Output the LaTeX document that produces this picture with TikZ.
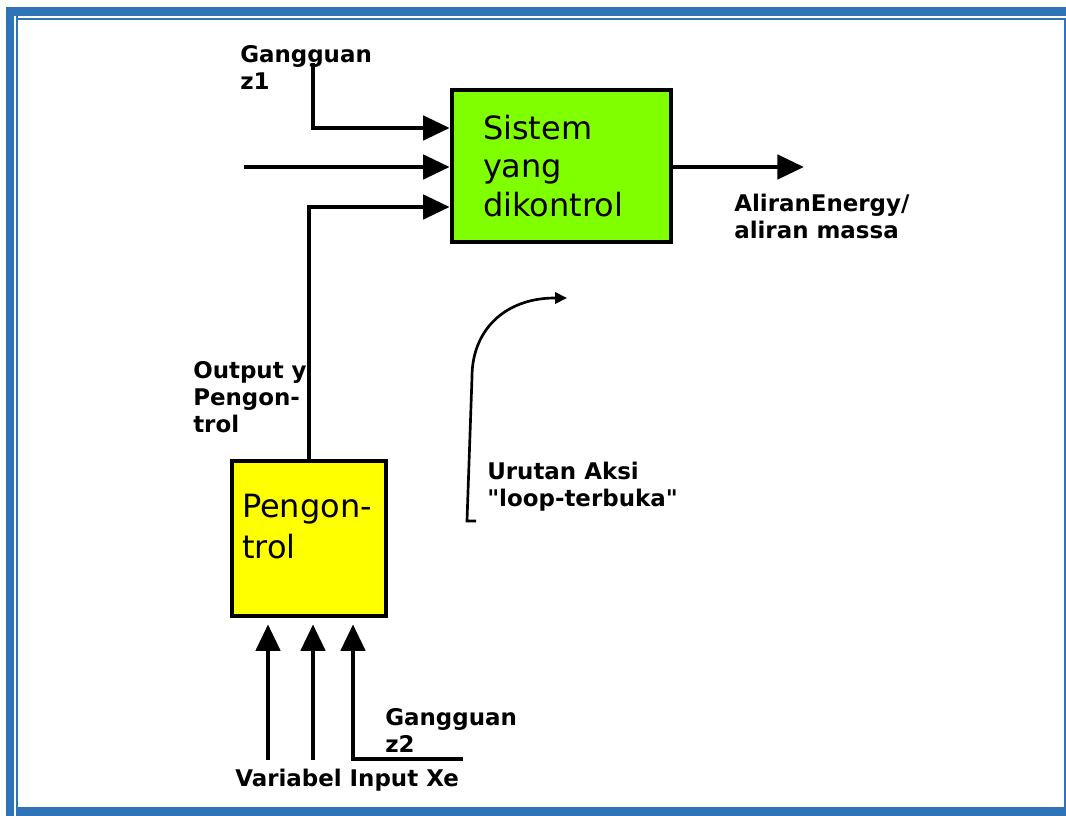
\documentclass[tikz,border=0pt]{standalone}
\usepackage{fontspec}
\setmainfont{DejaVu Sans}
\newfontfamily\verd{DejaVu Sans}
\usetikzlibrary{arrows.meta,calc}
\definecolor{frameblue}{RGB}{46,116,182}
\definecolor{sysgreen}{RGB}{128,255,0}
\definecolor{ctrlyellow}{RGB}{255,255,0}
\begin{document}
\begin{tikzpicture}[x=0.75pt,y=-0.75pt,
  lbl/.style={font=\verd\bfseries\fontsize{17.2}{20.25}\selectfont, align=left, anchor=north west, inner sep=0pt},
  blk/.style={draw=black, line width=3.4pt, inner sep=0pt, align=left},
  boxtext/.style={font=\verd\fontsize{24}{28.9}\selectfont},
  flow/.style={line width=3.6pt, -{Triangle[length=20pt,width=18pt]}},
  thinflow/.style={line width=2pt, -{Triangle[length=9pt,width=8.5pt]}}]
\fill[white] (0,0) rectangle (1066,816);
\useasboundingbox (0,0) rectangle (1066,816);
% frame
\fill[frameblue] (6,7) rectangle (1066,16);
\fill[frameblue] (6,7) rectangle (14,816);
\fill[frameblue] (17,807) rectangle (1066,816);
\fill[frameblue] (16,16) rectangle (18,816);
\fill[frameblue] (16,18) rectangle (1066,20);
\fill[frameblue] (1064,18) rectangle (1066,807);

% blocks
\node[blk, boxtext, fill=sysgreen, minimum width=164.25pt, minimum height=114pt, text width=117.75pt] (sys) at (561.5,166) {Sistem\\yang\\dikontrol};
\node[blk, fill=ctrlyellow, minimum width=115.5pt, minimum height=116.25pt] (ctrl) at (309,538.5) {};
\node[inner sep=0pt, align=left, anchor=north west, font=\verd\fontsize{24}{30.75}\selectfont] (ctrltext) at ($(ctrl.north west)+(12,35)$) {Pengon-\\trol};

% labels
\node[lbl] (z1) at (240,45) {Gangguan\\z1};
\node[lbl] (energy) at (734,194) {AliranEnergy/\\aliran massa};
\node[lbl] (yout) at (193,361) {Output y\\Pengon-\\trol};
\node[lbl] (seq) at (487,462) {Urutan Aksi\\"loop-terbuka"};
\node[lbl] (z2) at (385,708) {Gangguan\\z2};
\node[lbl] (xe) at (235,769) {Variabel Input Xe};

% connectors into the system
\coordinate (z1top) at (313,63);
\draw[flow] (z1top) |- ($(sys.west)+(0,-38)$);
\coordinate (uin) at (244,167);
\draw[flow] (uin) -- (uin -| sys.west);
\draw[flow] (ctrl.north) |- ($(sys.west)+(0,41)$);
\coordinate (flowout) at (804,167);
\draw[flow] (sys.east |- flowout) -- (flowout);

% inputs into the controller
\coordinate (xa) at (268,760);
\coordinate (xb) at (313,760);
\coordinate (z2end) at (463,759);
\draw[flow] (xa) -- ($(xa |- ctrl.south)+(0,6)$);
\draw[flow] (xb) -- ($(xb |- ctrl.south)+(0,6)$);
\draw[flow] (z2end) -| ($(ctrl.south)+(44,6)$);

% open-loop sequence arrow
\coordinate (s0) at (476,521);
\coordinate (s1) at (467,521);
\coordinate (s2) at (472,377);
\coordinate (s3) at (555,298);
\coordinate (s4) at (567,298);
\draw[thinflow] (s0) -- (s1) -- (s2) .. controls (472,330) and (505,298) .. (s3) -- (s4);
\end{tikzpicture}
\end{document}
